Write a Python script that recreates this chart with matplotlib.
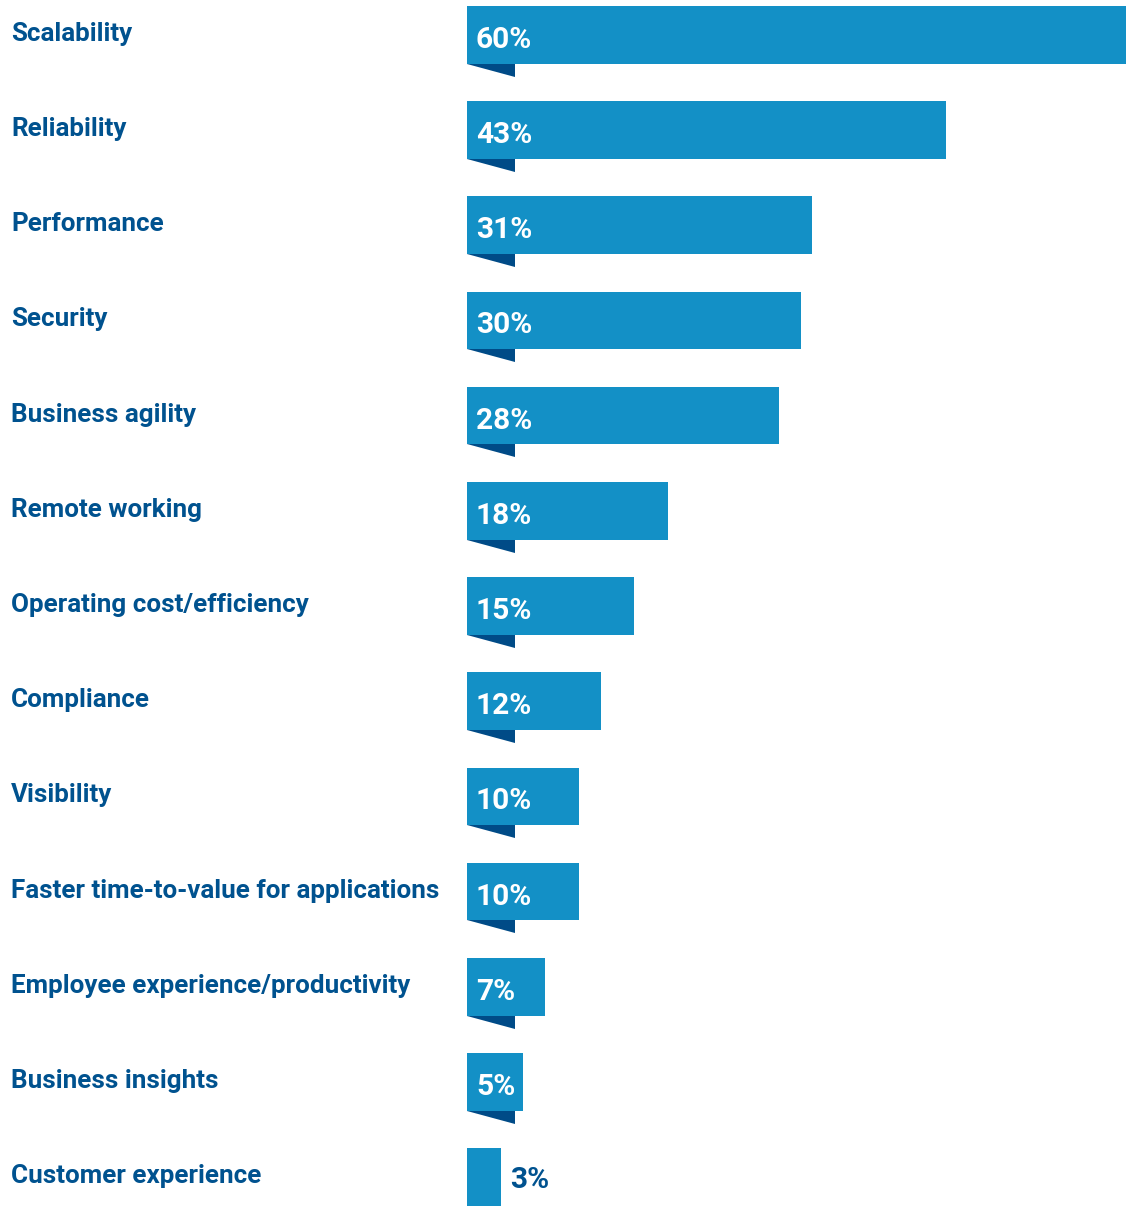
import matplotlib
matplotlib.use("Agg")
import matplotlib.pyplot as plt
from matplotlib.patches import Polygon
from matplotlib.transforms import offset_copy, blended_transform_factory

categories = [
    "Scalability", "Reliability", "Performance", "Security", "Business agility",
    "Remote working", "Operating cost/efficiency", "Compliance", "Visibility",
    "Faster time-to-value for applications", "Employee experience/productivity",
    "Business insights", "Customer experience",
]
values = [60, 43, 31, 30, 28, 18, 15, 12, 10, 10, 7, 5, 3]
labels = [f"{v}%" for v in values]

BAR = "#1390c6"
FOLD = "#004b87"
TEXT = "#00528f"
FONT = ["Roboto", "DejaVu Sans"]

W, H, DPI = 1126, 1206, 100
fig = plt.figure(figsize=(W / DPI, H / DPI), dpi=DPI)
ax_left = 467.5 / W
ax = fig.add_axes([ax_left, 0, 1 - ax_left, 1])

row_px = 95.2
first_center = 34.8
px_per_unit = 11.125
ax.set_xlim(0, (W - 467.5) / px_per_unit)
ax.set_ylim((H - first_center) / row_px, -first_center / row_px)
ax.axis("off")

bar_h = 57.5 / row_px
ypos = list(range(len(categories)))
ax.barh(ypos, values, height=bar_h, color=BAR, align="center")

fold_w = 48 / px_per_unit
fold_h = 13 / row_px
for i, (y, v) in enumerate(zip(ypos, values)):
    if i < len(values) - 1:
        bottom = y + bar_h / 2
        ax.add_patch(Polygon([(0, bottom), (fold_w, bottom), (fold_w, bottom + fold_h)],
                             closed=True, color=FOLD, lw=0))
        ax.text(0, y, labels[i], transform=offset_copy(ax.transData, fig=fig, x=8.5, y=-13, units="dots"),
                color="white", fontsize=21.5, fontweight="bold", family=FONT,
                ha="left", va="baseline")
    else:
        ax.text(v, y, labels[i], transform=offset_copy(ax.transData, fig=fig, x=9, y=-11, units="dots"),
                color=TEXT, fontsize=21.5, fontweight="bold", family=FONT,
                ha="left", va="baseline")

lab_tr = blended_transform_factory(fig.transFigure, ax.transData)
for y, c in zip(ypos, categories):
    ax.text(11 / W, y, c, transform=offset_copy(lab_tr, fig=fig, x=0, y=-6, units="dots"),
            color=TEXT, fontsize=18.7, fontweight="bold", family=FONT,
            ha="left", va="baseline", clip_on=False)

fig.savefig("out.png", dpi=DPI)
